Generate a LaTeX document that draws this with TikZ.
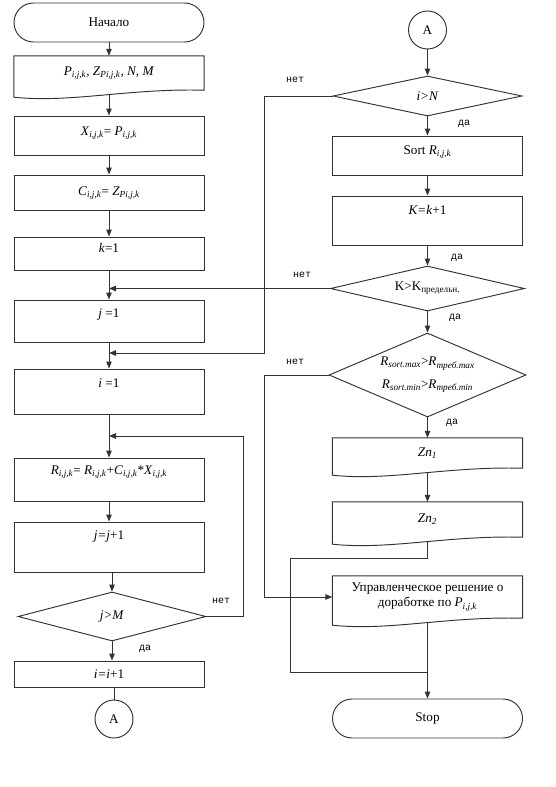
\documentclass[tikz,border=0pt]{standalone}
\usepackage{fontspec}
\setmainfont{Liberation Serif}
\newfontfamily\labfont{Liberation Mono}
\usetikzlibrary{shapes.geometric,arrows.meta,calc}
\newcommand\ssub[1]{\textsubscript{#1}}
\newcommand\docwave[1]{%
  \draw[ln] (#1.north west) -- (#1.north east) -- (#1.south east)
    .. controls ([shift={(19,-2)}]#1.south) and ([shift={(-38,13)}]#1.south) ..
    ([shift={(0,7)}]#1.south west) -- cycle;}
\begin{document}
\begin{tikzpicture}[x=1pt,y=-1pt,
  ln/.style={draw=black!80, line width=0.95pt},
  arr/.style={ln, -{Triangle[length=7pt,width=5.5pt]}},
  txt/.style={font=\fontsize{13.2}{15.5}\selectfont},
  term/.style={ln, txt, rectangle, rounded corners=19.5pt, minimum width=190pt, minimum height=39pt, inner sep=0pt},
  pbox/.style={ln, txt, rectangle, minimum width=190pt, inner xsep=2pt, inner ysep=0pt},
  dbox/.style={txt, rectangle, minimum width=190pt, inner sep=0pt, align=center},
  dec/.style={ln, txt, diamond, inner sep=0pt, align=center},
  conn/.style={ln, txt, circle, minimum size=38pt, inner sep=0pt},
  lab/.style={font=\labfont\fontsize{10}{12}\selectfont, inner sep=0pt}]
\useasboundingbox (0,0) rectangle (556,787);

% left column
\node[term] (start) at (109,22.5) {Начало};
\node[dbox, minimum height=34pt] (P) at (109,73) {\textit{P}\ssub{\textit{i,j,k}}\textit{, Z}\ssub{\textit{Pi,j,k}}\textit{, N, M}};
\node[pbox, text height=19pt, text depth=20pt] (X) at (109,135.5) {\textit{X}\ssub{\textit{i,j,k}}= \textit{P}\ssub{\textit{i,j,k}}};
\node[pbox, text height=20pt, text depth=15pt] (C) at (109,192.5) {\textit{C}\ssub{\textit{i,j,k}}= \textit{Z}\ssub{\textit{Pi,j,k}}};
\node[pbox, text height=15pt, text depth=18pt] (k1) at (109,253.5) {\textit{k}=1};
\node[pbox, text height=17pt, text depth=25pt] (j1) at (109,321) {\textit{j} =1};
\node[pbox, text height=18pt, text depth=27pt] (i1) at (109,391.5) {\textit{i} =1};
\node[pbox, text height=16pt, text depth=27pt] (R) at (109,479.5) {\textit{R}\ssub{\textit{i,j,k}}= \textit{R}\ssub{\textit{i,j,k}}+\textit{C}\ssub{\textit{i,j,k}}*\textit{X}\ssub{\textit{i,j,k}}};
\node[pbox, text height=17pt, text depth=33pt] (jj) at (109,547) {\textit{j=j}+1};
\node[dec, minimum width=188pt, minimum height=49pt, aspect=3.8] (M) at (112,616.5) {\textit{j>M}};
\node[pbox, minimum height=26pt] (ii) at (109,674) {\textit{i=i}+1};
\node[conn] (A1) at (114,719) {A};

% right column
\node[conn] (A2) at (427.5,30) {A};
\node[dec, minimum width=189pt, minimum height=40pt, aspect=4.7] (N) at (427.5,96) {\textit{i>N}};
\node[pbox, text height=18pt, text depth=21pt] (S) at (427.5,155.5) {Sort \textit{R}\ssub{\textit{i,j,k}}};
\node[pbox, text height=18pt, text depth=31pt] (K) at (427.5,220.5) {\textit{K=k}+1};
\node[dec, minimum width=194pt, minimum height=45pt, aspect=4.3] (KK) at (427.5,288.5) {K>K\ssub{предельн.}};
\node[dec, minimum width=197pt, minimum height=84pt, aspect=2.35] (RD) at (427.5,375) {\textit{R}\ssub{\textit{sort.max}}>\textit{R}\ssub{\textit{треб.max}}\\[7pt]\textit{R}\ssub{\textit{sort.min}}>\textit{R}\ssub{\textit{треб.min}}};
\node[dbox, minimum height=30pt] (Z1) at (427.5,453) {\textit{Zn}\ssub{\textit{1}}};
\node[dbox, minimum height=35pt] (Z2) at (427.5,519.5) {\textit{Zn}\ssub{\textit{2}}};
\node[dbox, minimum height=42pt] (U) at (427.5,597) {Управленческое решение о\\доработке по \textit{P}\ssub{\textit{i,j,k}}};
\node[term] (stop) at (427.5,718.5) {Stop};

\docwave{P}
\docwave{Z1}
\docwave{Z2}
\docwave{U}

% helper coordinates
\coordinate (c1) at (264,353);
\coordinate (c2) at (243,436);
\coordinate (b1) at (290,558);
\coordinate (b2) at (290,672);

% left connectors
\draw[arr] (start) -- (P);
\draw[arr] ([shift={(0,4.3)}]P.south) -- (X.north);
\draw[arr] (X) -- (C);
\draw[arr] (C) -- (k1);
\draw[arr] (k1) -- (j1);
\draw[arr] (j1) -- (i1);
\draw[arr] (i1) -- (R);
\draw[arr] (R) -- (jj);
\draw[arr] (jj.south -| M.north) -- (M.north);
\draw[arr] (M.south) -- (M.south |- ii.north);
\draw[ln] (ii.south -| A1.north) -- (A1.north);
\draw[arr] (M.east) -| (c2) -- (c2 -| R.north);

% right connectors
\draw[arr] (A2) -- (N);
\draw[arr] (N) -- (S);
\draw[arr] (S) -- (K);
\draw[arr] (K) -- (KK);
\draw[arr] (KK) -- (RD);
\draw[arr] (RD) -- (Z1);
\draw[arr] ([shift={(0,4.3)}]Z1.south) -- (Z2.north);
\draw[ln] ([shift={(0,4.3)}]Z2.south) |- (b1) -- (b2) -- (b2 -| stop.north);
\draw[arr] ([shift={(0,4.3)}]U.south) -- (stop.north);
\draw[arr] (N.west) -| (c1) -- (c1 -| i1.north);
\draw[arr] (KK.west) -- (KK.west -| j1.north);
\draw[arr] (RD.west) -- (RD.west -| c1) |- (U.west);

% labels
\node[lab] (l1) at (221,601) {нет};
\node[lab] (l2) at (145,649) {да};
\node[lab] (l3) at (295,80) {нет};
\node[lab] (l4) at (464,124) {да};
\node[lab] (l5) at (457,258) {да};
\node[lab] (l6) at (302,275) {нет};
\node[lab] (l7) at (455,318) {да};
\node[lab] (l8) at (295,362) {нет};
\node[lab] (l9) at (452,423) {да};
\end{tikzpicture}
\end{document}
